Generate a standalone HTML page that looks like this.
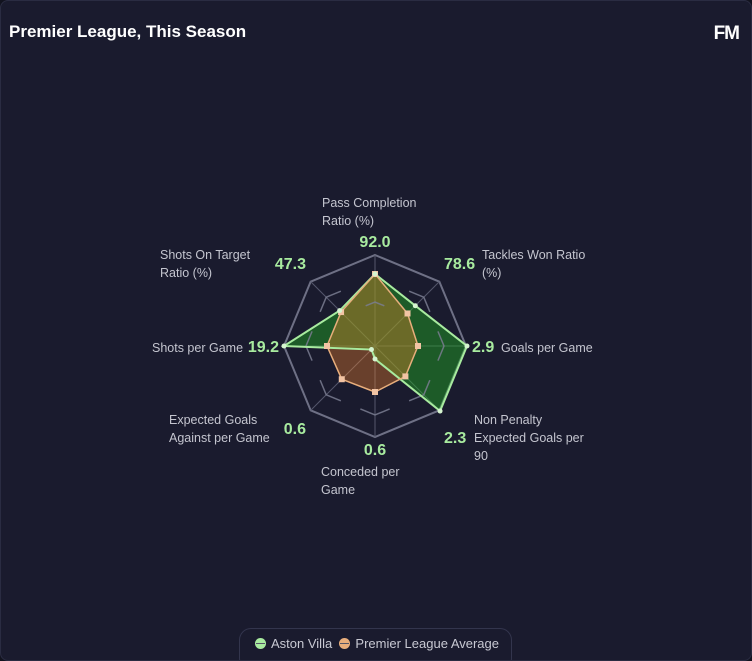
<!DOCTYPE html>
<html><head><meta charset="utf-8"><style>
html,body{margin:0;padding:0;background:#12131f;}
#p{position:absolute;left:0;top:0;width:750px;height:659px;background:#1a1b2e;border:1px solid #2a2c42;border-radius:8px;overflow:hidden;font-family:"Liberation Sans",sans-serif;}
.t{position:absolute;left:8px;top:21px;color:#fff;font-weight:bold;font-size:17px;}
.fm{position:absolute;right:12px;top:22px;color:#fff;font-weight:900;font-size:19px;letter-spacing:-1px;}
svg{position:absolute;left:0;top:0;}
.l{fill:#c4c5cf;font-size:12.5px;}
.v{fill:#a8eb9f;font-size:16px;font-weight:bold;}
.lg{position:absolute;left:238px;top:627px;width:271px;height:40px;border:1px solid #33354d;border-radius:12px;color:#c8c9d3;font-size:13px;}
.dot{display:inline-block;width:11px;height:11px;border-radius:50%;vertical-align:-1px;margin-right:5px;position:relative}
.dot:after{content:"";position:absolute;left:1px;right:1px;top:5px;height:1px;background:#556;}
</style></head><body><div id="p">
<div class="t">Premier League, This Season</div>
<div class="fm">FM</div>
<svg id="s" width="752" height="661"></svg>
<div class="lg"><div style="position:absolute;left:15px;top:7px;white-space:nowrap"><span class="dot" style="background:#a8eb9f"></span>Aston Villa&nbsp;&nbsp;<span class="dot" style="background:#e8ae7c"></span>Premier League Average</div></div>
</div>
<script>
var cx=374,cy=345,s='';
function pt(a,r){var t=(a*45-90)*Math.PI/180;return [cx+r*Math.cos(t),cy+r*Math.sin(t)];}
var o=[];for(var i=0;i<8;i++)o.push(pt(i,91).join(','));
s+='<polygon points="'+o.join(' ')+'" fill="none" stroke="#6e7085" stroke-width="2"/>';
for(var i=0;i<8;i++){var p=pt(i,91);s+='<line x1="'+cx+'" y1="'+cy+'" x2="'+p[0]+'" y2="'+p[1]+'" stroke="#55576c" stroke-width="1"/>';}
function chev(i,r){var v=pt(i,r);var n1=pt(i-1,r),n2=pt(i+1,r);var f=0.3;
 var a=[v[0]+(n1[0]-v[0])*f,v[1]+(n1[1]-v[1])*f],b=[v[0]+(n2[0]-v[0])*f,v[1]+(n2[1]-v[1])*f];
 s+='<polyline points="'+a.join(',')+' '+v.join(',')+' '+b.join(',')+'" fill="none" stroke="#7a7c90" stroke-width="1.5" stroke-opacity="0.85"/>';}
var av=[72,57,92,92,13,5,91,50],pl=[72,46,43,43,46,47,48,48];
var A=[],P=[];for(i=0;i<8;i++){A.push(pt(i,av[i]).join(','));P.push(pt(i,pl[i]).join(','));}
s+='<polygon points="'+A.join(' ')+'" fill="rgba(34,170,34,0.45)"/>';
s+='<polygon points="'+P.join(' ')+'" fill="rgba(255,134,40,0.35)"/>';
for(i=0;i<8;i++){chev(i,i==0?44:69);}
s+='<polygon points="'+A.join(' ')+'" fill="none" stroke="#a8eb9f" stroke-width="2"/>';
s+='<polygon points="'+P.join(' ')+'" fill="none" stroke="#e8ae7c" stroke-width="1.5"/>';
for(i=0;i<8;i++){var q=pt(i,pl[i]);s+='<rect x="'+(q[0]-3)+'" y="'+(q[1]-3)+'" width="6" height="6" fill="#f2c4a4"/>';}
for(i=0;i<8;i++){var q=pt(i,av[i]);s+='<circle cx="'+q[0]+'" cy="'+q[1]+'" r="2.5" fill="#d6f5d0"/>';}
function T(x,y,c,t,an){s+='<text x="'+x+'" y="'+y+'" class="'+c+'"'+(an?' text-anchor="'+an+'"':'')+'>'+t+'</text>';}
T(321,206,'l','Pass Completion');T(321,224,'l','Ratio (%)');T(374,246,'v','92.0','middle');
T(159,258,'l','Shots On Target');T(159,276,'l','Ratio (%)');T(305,268,'v','47.3','end');
T(443,268,'v','78.6');T(481,258,'l','Tackles Won Ratio');T(481,276,'l','(%)');
T(151,351,'l','Shots per Game');T(278,351,'v','19.2','end');
T(471,351,'v','2.9');T(500,351,'l','Goals per Game');
T(168,423,'l','Expected Goals');T(168,441,'l','Against per Game');T(305,433,'v','0.6','end');
T(443,442,'v','2.3');T(473,423,'l','Non Penalty');T(473,441,'l','Expected Goals per');T(473,459,'l','90');
T(374,454,'v','0.6','middle');T(320,475,'l','Conceded per');T(320,493,'l','Game');
document.getElementById('s').innerHTML=s;
</script>
</body></html>
